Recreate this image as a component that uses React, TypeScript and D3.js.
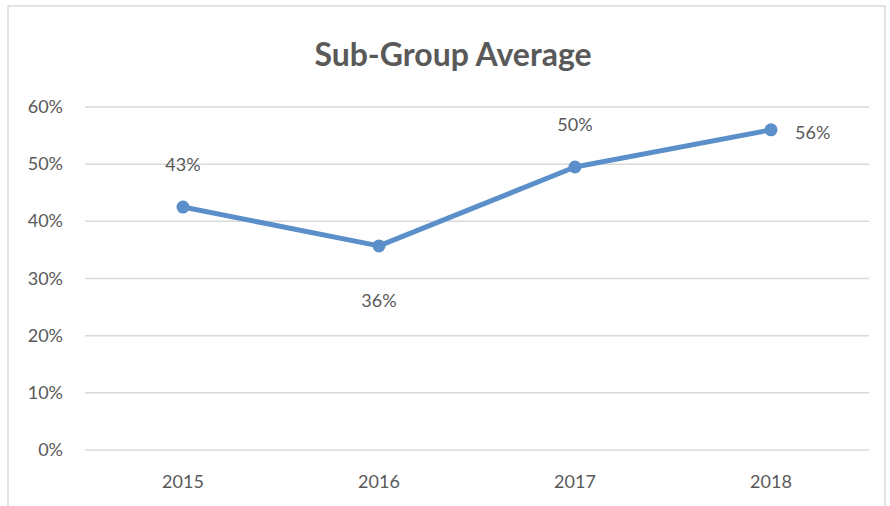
import React from "react";
import * as d3 from "d3";

const categories = ["2015", "2016", "2017", "2018"];
const values = [0.425, 0.357, 0.495, 0.56];
const labels = ["43%", "36%", "50%", "56%"];
const labelPos = ["above", "below", "above", "right"];
const yTicks = [0, 0.1, 0.2, 0.3, 0.4, 0.5, 0.6];

export default function App() {
  const W = 890, H = 506;
  const left = 85, right = 869, top = 107, bottom = 450;
  const x = d3.scaleBand().domain(categories).range([left, right]);
  const y = d3.scaleLinear().domain([0, 0.6]).range([bottom, top]);
  const fmt = d3.format(".0%");
  const cx = (c: string) => (x(c) as number) + x.bandwidth() / 2;
  const line = d3.line<number>().x((_, i) => cx(categories[i])).y((v) => y(v));
  const font = "Lato, 'Open Sans', sans-serif";
  const grey = "#595959";
  return (
    <svg width={W} height={H} style={{ position: "absolute", left: 0, top: 0 }} fontFamily={font}>
      <rect x={0} y={0} width={W} height={H} fill="#fff" />
      <rect x={8} y={6} width={877} height={H + 10} fill="#fff" stroke="#d9d9d9" strokeWidth={1.5} />
      <text x={453} y={66} textAnchor="middle" fontSize={32} fontWeight="bold" fill={grey}>Sub-Group Average</text>
      {yTicks.map((t) => (
        <g key={t}>
          <line x1={left} x2={right} y1={y(t)} y2={y(t)} stroke="#d9d9d9" strokeWidth={1.5} />
          <text x={63} y={y(t) + 6} textAnchor="end" fontSize={18} fill={grey}>{fmt(t)}</text>
        </g>
      ))}
      {categories.map((c) => (
        <text key={c} x={cx(c)} y={488} textAnchor="middle" fontSize={18} fill={grey}>{c}</text>
      ))}
      <path d={line(values) || ""} fill="none" stroke="#5b8fc9" strokeWidth={5} strokeLinejoin="round" />
      {values.map((v, i) => (
        <circle key={i} cx={cx(categories[i])} cy={y(v)} r={6.5} fill="#5b8fc9" />
      ))}
      {values.map((v, i) => {
        const px = cx(categories[i]);
        const py = y(v);
        const pos = labelPos[i];
        if (pos === "right")
          return <text key={i} x={px + 24} y={py + 9} fontSize={18} fill={grey}>{labels[i]}</text>;
        return (
          <text key={i} x={px} y={pos === "above" ? py - 36 : py + 61} textAnchor="middle" fontSize={18} fill={grey}>
            {labels[i]}
          </text>
        );
      })}
    </svg>
  );
}
